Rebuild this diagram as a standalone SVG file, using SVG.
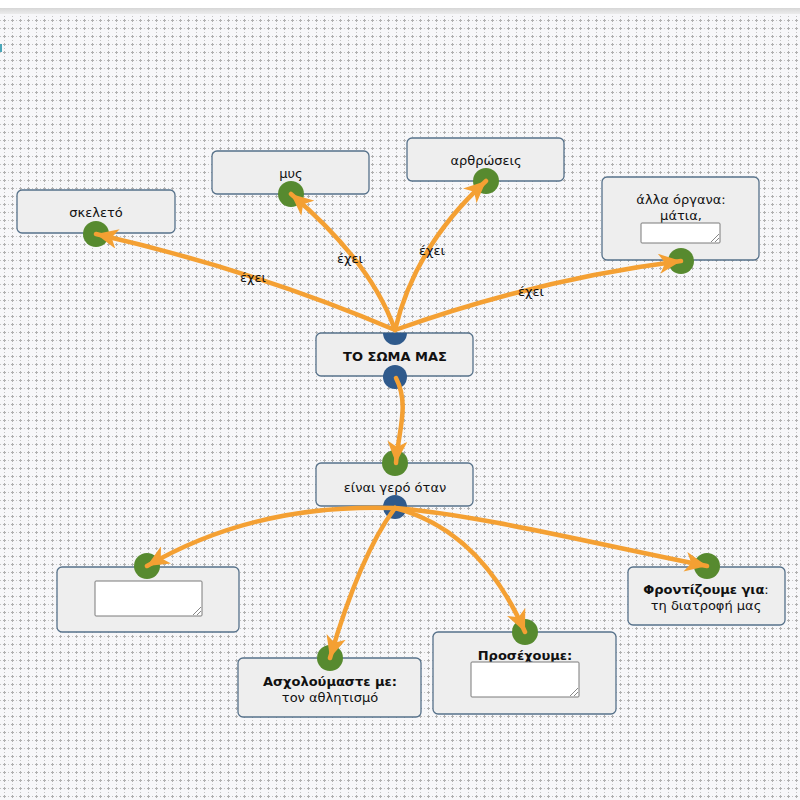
<svg xmlns="http://www.w3.org/2000/svg" width="800" height="800" viewBox="0 0 800 800">
<defs>
<pattern id="grid" x="0" y="0" width="8" height="8" patternUnits="userSpaceOnUse">
<rect width="8" height="8" fill="#f7f7f9"/>
<rect x="3" y="4" width="3" height="1" fill="#b0b0b0"/>
<rect x="4" y="3" width="1" height="3" fill="#b0b0b0"/>
<rect x="0" y="4" width="1" height="1" fill="#c4c4c4"/>
<rect x="4" y="0" width="1" height="1" fill="#c4c4c4"/>
</pattern>
<linearGradient id="bar" x1="0" y1="0" x2="0" y2="1">
<stop offset="0" stop-color="#d6d6d6"/>
<stop offset="1" stop-color="#ececec"/>
</linearGradient>
<marker id="arr" viewBox="0 0 24 20" refX="22" refY="10" markerWidth="24" markerHeight="20" markerUnits="userSpaceOnUse" orient="auto">
<path d="M0,0 L22,10 L0,20 L6,10 Z" fill="#f4a033"/>
</marker>
<style>
.box{fill:#eeeeee;stroke:#56718a;stroke-width:1.3}
.t{font-family:"DejaVu Sans",Verdana,sans-serif;font-size:13px;fill:#111;text-anchor:middle}
.b{font-weight:bold}
.lbl{font-family:"DejaVu Sans",Verdana,sans-serif;font-size:13px;fill:#111;text-anchor:middle}
.in{fill:#2f5a8c}
.out{fill:#578a2f}
.ta{fill:#ffffff;stroke:#7a7a7a;stroke-width:1}
.grip{stroke:#888;stroke-width:1}
.c{fill:none;stroke:#f4a033;stroke-width:4.5;stroke-linecap:round;marker-end:url(#arr)}
</style>
</defs>
<rect width="800" height="800" fill="#ffffff"/>
<rect x="0" y="14" width="800" height="786" fill="url(#grid)"/>
<rect x="0" y="8" width="800" height="6" fill="url(#bar)"/>
<rect x="0" y="44" width="2" height="8" fill="#4aa6b8"/>

<g id="n-soma">
<rect class="box" x="316" y="333" width="157" height="43" rx="5"/>
<path class="in" d="M383,333 A12,12 0 0 0 407,333 Z"/>
<text class="t b" x="395" y="361">ΤΟ ΣΩΜΑ ΜΑΣ</text>
<circle class="in" cx="395" cy="377" r="12"/>
</g>
<g id="n-skeleto">
<rect class="box" x="17" y="190" width="158" height="43" rx="5"/>
<text class="t" x="96" y="217">σκελετό</text>
<circle class="out" cx="96" cy="234" r="13"/>
</g>
<g id="n-mys">
<rect class="box" x="212" y="151" width="157" height="43" rx="5"/>
<text class="t" x="291" y="178">μυς</text>
<circle class="out" cx="291" cy="194" r="13"/>
</g>
<g id="n-arthroseis">
<rect class="box" x="407" y="138" width="157" height="43" rx="5"/>
<text class="t" x="486" y="165">αρθρώσεις</text>
<circle class="out" cx="486" cy="181" r="13"/>
</g>
<g id="n-alla">
<rect class="box" x="602" y="177" width="157" height="83" rx="5"/>
<text class="t" x="681" y="204">άλλα όργανα:</text>
<text class="t" x="681" y="220">μάτια,</text>
<rect class="ta" x="641" y="223" width="79" height="20" rx="1"/>
<path class="grip" d="M711,242 L719,234 M715,242 L719,238"/>
<circle class="out" cx="681" cy="261" r="13"/>
</g>
<g id="n-gero">
<rect class="box" x="316" y="463" width="157" height="43" rx="5"/>
<text class="t" x="395" y="492">είναι γερό όταν</text>
<circle class="in" cx="395" cy="507" r="12"/>
<circle class="out" cx="395" cy="463" r="13"/>
</g>
<g id="n-empty">
<rect class="box" x="57" y="567" width="182" height="65" rx="5"/>
<rect class="ta" x="95" y="581" width="107" height="35" rx="1"/>
<path class="grip" d="M193,615 L201,607 M197,615 L201,611"/>
<circle class="out" cx="147" cy="566" r="13"/>
</g>
<g id="n-asxol">
<rect class="box" x="238" y="658" width="183" height="59" rx="5"/>
<text class="t b" x="330" y="686">Ασχολούμαστε με:</text>
<text class="t" x="330" y="702">τον αθλητισμό</text>
<circle class="out" cx="330" cy="658" r="13"/>
</g>
<g id="n-prosex">
<rect class="box" x="433" y="632" width="183" height="82" rx="5"/>
<text class="t b" x="525" y="660">Προσέχουμε:</text>
<rect class="ta" x="471" y="662" width="108" height="35" rx="1"/>
<path class="grip" d="M570,696 L578,688 M574,696 L578,692"/>
<circle class="out" cx="525" cy="632" r="13"/>
</g>
<g id="n-front">
<rect class="box" x="628" y="567" width="157" height="58" rx="5"/>
<text class="t" x="706" y="594"><tspan class="b">Φροντίζουμε για</tspan>:</text>
<text class="t" x="706" y="610">τη διατροφή μας</text>
<circle class="out" cx="707" cy="566" r="13"/>
</g>

<g id="connectors">
<path class="c" d="M395,330 Q254,270 96,234"/>
<path class="c" d="M395,330 Q371,262 291,194"/>
<path class="c" d="M395,330 Q415,246 486,181"/>
<path class="c" d="M395,330 Q538,279 681,261"/>
<path class="c" d="M396,378 C410,405 398,432 396,463"/>
<path class="c" d="M395,508 Q255,503 147,566"/>
<path class="c" d="M395,508 Q360,555 330,658"/>
<path class="c" d="M395,508 Q480,530 525,632"/>
<path class="c" d="M395,508 C480,515 600,545 707,566"/>
<text class="lbl" x="253" y="282">έχει</text>
<text class="lbl" x="350" y="263">έχει</text>
<text class="lbl" x="432" y="255">έχει</text>
<text class="lbl" x="531" y="296">έχει</text>
</g>
</svg>
